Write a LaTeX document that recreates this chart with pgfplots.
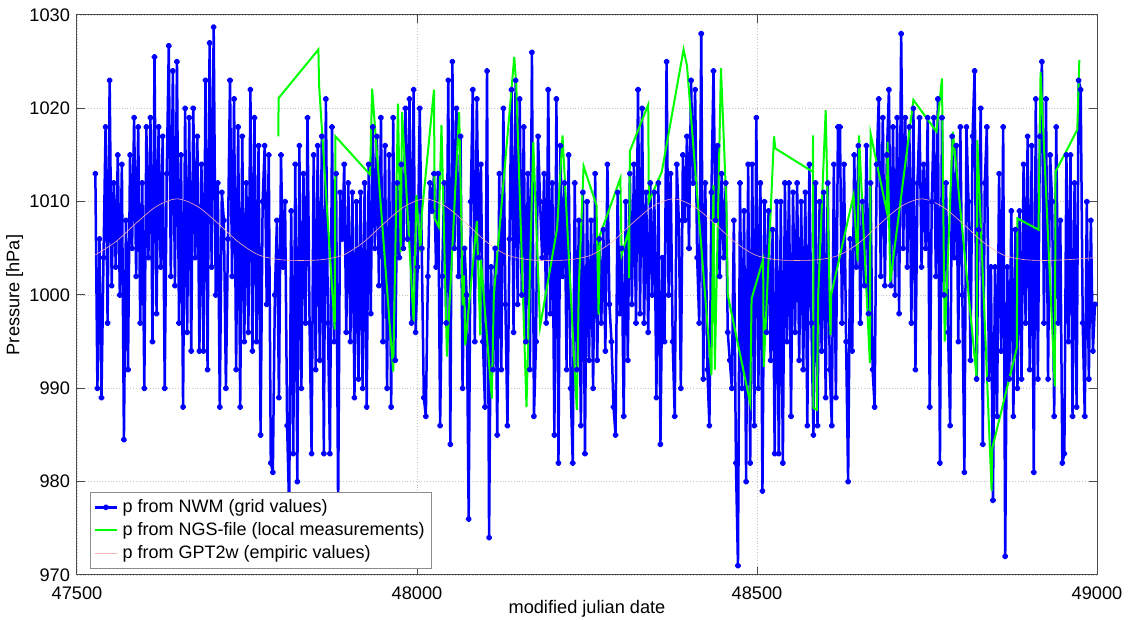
\documentclass[border=0pt]{standalone}
\usepackage{fontspec}
\setmainfont{Liberation Sans}
\usepackage{pgfplots}
\pgfplotsset{compat=1.18}
\usepackage{pgfplotstable}
\definecolor{nwmblue}{rgb}{0,0,1}
\definecolor{ngsgreen}{rgb}{0,1,0}
\definecolor{gptpink}{rgb}{1,0.7,0.7}

\pgfplotstableread{
x y
47527 1013
47530 990
47533 1006
47536 989
47539 1004
47542 1018
47545 997
47548 1023
47551 1001
47554 1012
47557 1003
47560 1015
47563 1000
47566 1014
47569 984.5
47572 1008
47575 992
47578 1015
47581 1005
47584 1019
47587 1002
47590 1018
47593 997
47596 1012
47599 990
47602 1018
47605 1004
47608 1019
47611 995
47614 1025.5
47617 998
47620 1018
47623 1003
47626 1017
47629 990
47632 1013
47635 1026.7
47638 1002
47641 1024
47644 1001
47647 1025
47650 997
47653 1015
47656 988
47659 1020
47662 996
47665 1019
47668 994
47671 1020
47674 1004
47677 1017
47680 994
47683 1014
47686 994
47689 1023
47692 992
47695 1027
47698 1003
47701 1028.7
47704 1000
47707 1012
47710 988
47713 1011
47716 1008
47719 990
47722 1006
47725 1023
47728 1002
47731 1021
47734 992
47737 1018
47740 988
47743 1017
47746 995
47749 1012
47752 996
47755 1022
47758 994
47761 1019
47764 995
47767 1016
47770 985
47773 1010
47776 1016
47779 999
47782 1015
47785 982
47788 981
47791 1000
47794 1008
47797 989
47800 1015
47803 1003
47806 1010
47809 986
47812 977
47815 1009
47818 983
47821 1014
47824 980
47827 1016
47830 990
47833 1013
47836 997
47839 1019
47842 997
47845 983
47848 1015
47851 992
47854 1016
47857 993
47860 1017
47863 983
47866 1021
47869 997
47872 983
47875 1018
47878 995
47881 1013
47884 977
47887 1011
47890 1006
47893 1014
47896 996
47899 1012
47902 995
47905 1011
47908 989
47911 1010
47914 991
47917 1011
47920 990
47923 1012
47926 988
47929 1014
47932 998
47935 1018
47938 1005
47941 1017
47944 1001
47947 1019
47950 995
47953 1016
47956 990
47959 1015
47962 988
47965 1019
47968 993
47971 1012
47974 1004
47977 1014
47980 1005
47983 1020
47986 1006
47989 1021
47992 997
47995 1022
47998 996
48001 1003
48004 1020
48007 1005
48010 989
48013 987
48016 1002
48019 1012
48022 1009
48025 1013
48028 1003
48031 1013
48034 986
48037 1002
48040 1012
48043 997
48046 1023
48049 984
48052 1025
48055 1005
48058 1020
48061 1002
48064 1017
48067 990
48070 1005
48073 1000
48076 976
48079 1010
48082 1022
48085 995
48088 1021
48091 1004
48094 1014
48097 995
48100 988
48103 1024
48106 974
48109 1003
48112 992
48115 1005
48118 985
48121 1013
48124 992
48127 1020
48130 999
48133 986
48136 1006
48139 1022
48142 996
48145 1023
48148 999
48151 1021
48154 1000
48157 1018
48160 995
48163 1013
48166 992
48169 1026
48172 987
48175 995
48178 1017
48181 1010
48184 1004
48187 1013
48190 997
48193 1022
48196 998
48199 1012
48202 985
48205 1021
48208 982
48211 1016
48214 1002
48217 1012
48220 992
48223 1015
48226 990
48229 982
48232 1012
48235 992
48238 1008
48241 986
48244 1011
48247 983
48250 1010
48253 993
48256 1008
48259 990
48262 1013
48265 993
48268 1006
48271 997
48274 1007
48277 994
48280 1014
48283 999
48286 995
48289 988
48292 985
48295 1011
48298 998
48301 1005
48304 987
48307 1010
48310 993
48313 1013
48316 999
48319 1014
48322 997
48325 1022
48328 998
48331 1020
48334 997
48337 1011
48340 996
48343 1012
48346 1000
48349 1011
48352 989
48355 1012
48358 984
48361 1004
48364 995
48367 1025
48370 1000
48373 1013
48376 995
48379 987
48382 1014
48385 1008
48388 990
48391 1015
48394 1008
48397 1017
48400 1005
48403 1023
48406 1012
48409 1022
48412 1004
48415 997
48418 1028
48421 991
48424 1012
48427 992
48430 986
48433 1011
48436 1024
48439 1008
48442 1016
48445 1002
48448 1013
48451 1004
48454 1012
48457 996
48460 993
48463 990
48466 1008
48469 982
48472 971
48475 1012
48478 990
48481 1009
48484 980
48487 1014
48490 982
48493 1014
48496 986
48499 1019
48502 990
48505 1012
48508 979
48511 1010
48514 996
48517 1009
48520 993
48523 1007
48526 983
48529 1010
48532 983
48535 1010
48538 982
48541 1012
48544 995
48547 1012
48550 987
48553 1011
48556 996
48559 1012
48562 993
48565 1010
48568 992
48571 1011
48574 986
48577 1014
48580 997
48583 985
48586 1012
48589 986
48592 1010
48595 994
48598 1011
48601 989
48604 1012
48607 992
48610 986
48613 1014
48616 989
48619 1018
48622 1018
48625 997
48628 1014
48631 995
48634 980
48637 1006
48640 994
48643 1015
48646 1003
48649 1016
48652 997
48655 1010
48658 1001
48661 1016
48664 998
48667 1012
48670 992
48673 988
48676 1014
48679 1021
48682 1002
48685 1019
48688 1001
48691 1015
48694 1022
48697 1001
48700 1018
48703 1000
48706 1019
48709 998
48712 1028
48715 1005
48718 1019
48721 1003
48724 1018
48727 997
48730 1020
48733 992
48736 1012
48739 1019
48742 1003
48745 1014
48748 1005
48751 1019
48754 988
48757 1010
48760 1019
48763 1002
48766 1021
48769 982
48772 1019
48775 1000
48778 1012
48781 996
48784 986
48787 1017
48790 1004
48793 1016
48796 995
48799 1018
48802 1000
48805 981
48808 1018
48811 1010
48814 993
48817 1017
48820 1024
48823 991
48826 1007
48829 1020
48832 984
48835 1012
48838 1018
48841 991
48844 1003
48847 978
48850 1003
48853 987
48856 1013
48859 994
48862 1018
48865 972
48868 1003
48871 991
48874 1009
48877 987
48880 1007
48883 990
48886 1009
48889 991
48892 1014
48895 997
48898 1017
48901 992
48904 1016
48907 981
48910 1021
48913 991
48916 1017
48919 1025
48922 997
48925 1021
48928 991
48931 1015
48934 1010
48937 987
48940 1018
48943 997
48946 1008
48949 982
48952 983
48955 1015
48958 995
48961 1015
48964 987
48967 1012
48970 988
48973 1023
48976 1022
48979 997
48982 987
48985 1010
48988 991
48991 1008
48994 994
48997 999
}\tabNWM

\pgfplotstableread{
x y
47796 1017.0
47796.5 1021.1
47855 1026.3
47856 1022.5
47879 996.3
47880 1017.0
47931 1012.9
47934 1022.1
47965 991.8
47972 1020.5
47976 1004.6
47978 1019.6
47995 997.1
47999 1010.7
48005 1004.6
48007 1008.6
48025 1022.0
48026 1008.2
48032 1007.3
48036 1018.2
48044 993.4
48062 1019.6
48065 1008.9
48067 998.9
48069 1002.1
48071 994.6
48088 1007.9
48093 995.7
48094 1003.8
48110 988.9
48113 1000.0
48143 1025.5
48146 1022.5
48161 988.0
48171 1016.4
48181 996.6
48206 1007.1
48214 1017.1
48235 987.7
48238 1001.0
48245 1013.8
48264 1009.6
48267 997.9
48269 1006.4
48299 1012.5
48301 1004.3
48311 1006.8
48312 1001.8
48313 1015.4
48340 1020.4
48341 1010.0
48360 1013.2
48392 1026.3
48397 1024.6
48433 991.4
48436 1011.8
48438 992.0
48447 1024.3
48455 1009.6
48457 1000.0
48490 988.4
48492 999.6
48509 1003.8
48510 992.3
48525 1017.0
48527 1015.7
48582 1013.2
48582.5 1017.1
48583 987.9
48588 987.7
48590 1000.0
48601 1019.8
48608 995.7
48609 1000.0
48642 1010.7
48648 1003.6
48650 1017.1
48666 992.7
48667 1017.3
48691 1008.9
48692 1016.4
48696 1001.4
48730 1020.9
48764 1017.5
48772 1023.2
48776 995.0
48788 1017.5
48823 991.1
48824 1016.6
48845 979.0
48846 983.6
48882 994.3
48883 1008.2
48914 1007.0
48917 1023.9
48938 990.2
48939 1013.2
48971 1017.7
48974 1025.2
}\tabNGS

\pgfplotstableread{
x y
47527 1004.3
47557 1005.7
47587 1007.7
47617 1009.5
47647 1010.3
47677 1009.5
47707 1007.7
47737 1005.7
47767 1004.3
47797 1003.8
47829 1003.7
47862 1003.8
47892 1004.3
47922 1005.7
47952 1007.7
47982 1009.5
48012 1010.3
48042 1009.5
48072 1007.7
48102 1005.7
48132 1004.3
48162 1003.8
48194 1003.7
48227 1003.8
48257 1004.3
48287 1005.7
48317 1007.7
48347 1009.5
48377 1010.3
48407 1009.5
48437 1007.7
48467 1005.7
48497 1004.3
48527 1003.8
48559 1003.7
48592 1003.8
48622 1004.3
48652 1005.7
48682 1007.7
48712 1009.5
48742 1010.3
48772 1009.5
48802 1007.7
48832 1005.7
48862 1004.3
48892 1003.8
48924 1003.7
48960 1003.8
48997 1004.0
}\tabGPT

\begin{document}
\begin{tikzpicture}
\useasboundingbox (-38.5pt,-22.5pt) rectangle (526pt,287.5pt);
\begin{axis}[
  scale only axis,
  width=510pt, height=280pt,
  xmin=47500, xmax=49000, ymin=970, ymax=1030,
  scaled ticks=false,
  xtick={47500,48000,48500,49000},
  xticklabels={47500,48000,48500,49000},
  ytick={970,980,990,1000,1010,1020,1030},
  yticklabels={970,980,990,1000,1010,1020,1030},
  tick align=inside,
  major tick length=4pt,
  grid=major,
  grid style={densely dotted, gray!45, line width=0.4pt},
  axis line style={black!70, line width=0.5pt},
  tick style={black!70, line width=0.5pt},
  ticklabel style={font=\fontsize{9.1}{11}\selectfont},
  xticklabel style={yshift=-2.5pt},
  label style={font=\fontsize{9.1}{11}\selectfont},
  xlabel={modified julian date},
  ylabel={Pressure [hPa]},
  xlabel style={at={(axis description cs:0.5,-0.061)}, anchor=center},
  ylabel style={at={(axis description cs:-0.061,0.5)}, anchor=center},
  legend style={at={(0.0127,0.011)}, anchor=south west, draw=black!45,
    line width=0.4pt, font=\fontsize{9}{11}\selectfont,
    inner sep=1.5pt, row sep=-0.5pt, fill=white},
  legend cell align=left,
  legend image code/.code={\draw[mark repeat=2,mark phase=2,#1] plot coordinates {(0cm,0cm) (0.2cm,0cm) (0.4cm,0cm)};},
]
\addplot[color=nwmblue, line width=1.25pt, line join=round, mark=*, mark size=0.95pt, mark options={solid}] table[x=x,y=y]{\tabNWM};
\addlegendentry{p from NWM (grid values)}
\addplot[color=ngsgreen, line width=1pt, no markers] table[x=x,y=y]{\tabNGS};
\addlegendentry{p from NGS-file (local measurements)}
\addplot[color=gptpink, line width=0.3pt, smooth, no markers] table[x=x,y=y]{\tabGPT};
\addlegendentry{p from GPT2w (empiric values)}
\end{axis}
\end{tikzpicture}
\end{document}
